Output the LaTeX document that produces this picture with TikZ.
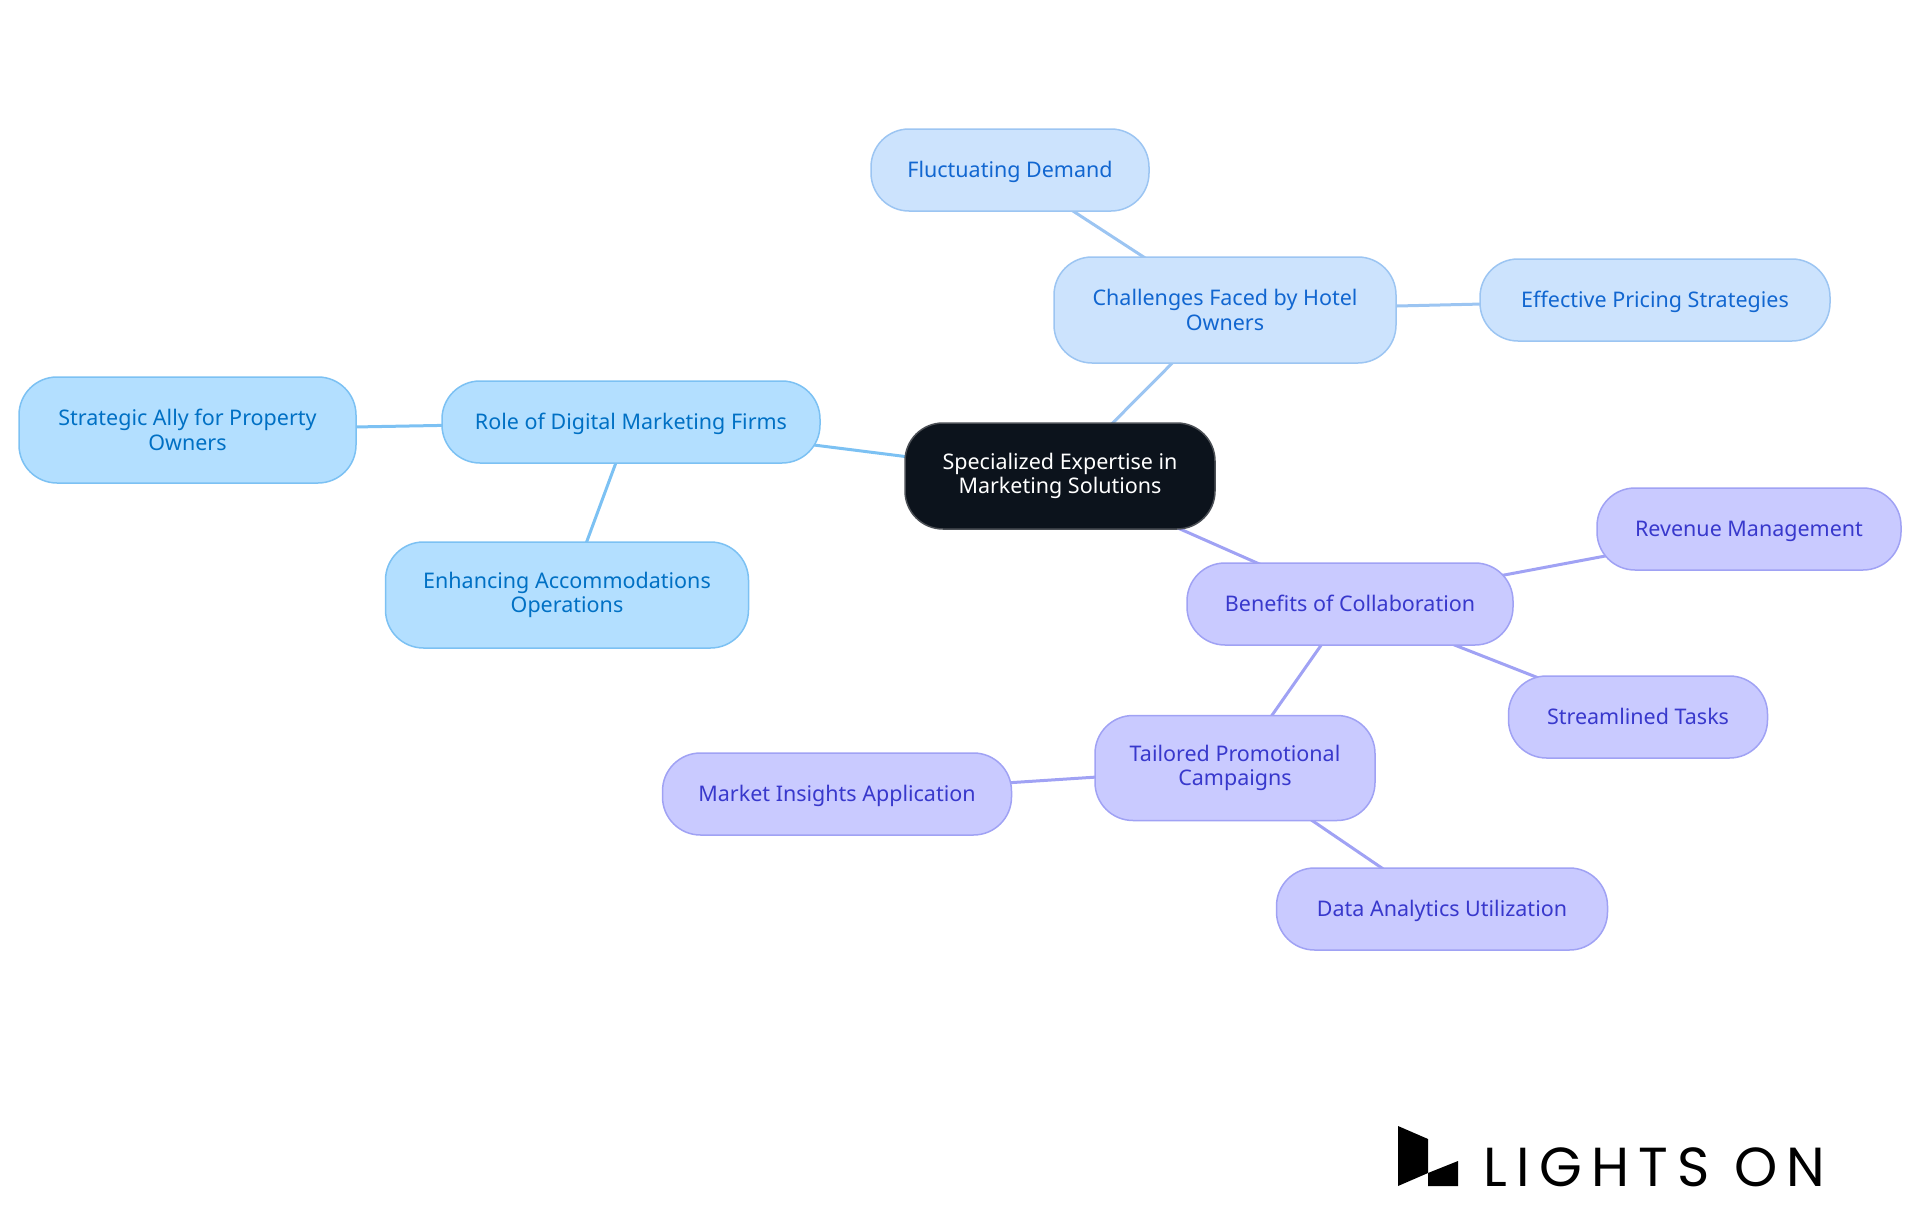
\documentclass[tikz,border=0pt]{standalone}
\usepackage{fontspec}
\setmainfont{Noto Sans}
\newfontfamily\logofont{Poppins}
\usetikzlibrary{backgrounds}
\definecolor{skyfill}{HTML}{B3DFFF}
\definecolor{skyline}{HTML}{7CC1F3}
\definecolor{skytext}{HTML}{0070C4}
\definecolor{bluefill}{HTML}{CCE3FD}
\definecolor{blueline}{HTML}{9CC5F2}
\definecolor{bluetext}{HTML}{1166D0}
\definecolor{violetfill}{HTML}{C9CAFF}
\definecolor{violetline}{HTML}{A0A2F4}
\definecolor{violettext}{HTML}{3838CC}
\definecolor{rootfill}{HTML}{0C131C}
\definecolor{rootline}{HTML}{4B4F55}
\begin{document}
\begin{tikzpicture}[x=1pt,y=-1pt,
  topic/.style={draw,line width=1.5pt,rounded corners=38pt,inner sep=0pt,align=center,
    font=\fontsize{21.5}{24.5}\selectfont},
  oneline/.style={text height=19pt,text depth=5pt},
  sky/.style={topic,fill=skyfill,draw=skyline,text=skytext},
  bluish/.style={topic,fill=bluefill,draw=blueline,text=bluetext},
  violet/.style={topic,fill=violetfill,draw=violetline,text=violettext},
  link/.style={line width=3pt}]
\useasboundingbox (0,0) rectangle (1920,1215);

\node[topic,fill=rootfill,draw=rootline,text=white,minimum width=310pt,minimum height=106pt] (root) at (1060,476) {Specialized Expertise in\\Marketing Solutions};

% left branch
\node[sky,oneline,minimum width=378pt,minimum height=82pt] (role) at (631,422) {Role of Digital Marketing Firms};
\node[sky,minimum width=337pt,minimum height=106pt] (ally) at (187.5,430) {Strategic Ally for Property\\Owners};
\node[sky,minimum width=363pt,minimum height=106pt] (enhancing) at (567,595) {Enhancing Accommodations\\Operations};

% top branch
\node[bluish,minimum width=342pt,minimum height=106pt] (challenges) at (1225,310) {Challenges Faced by Hotel\\Owners};
\node[bluish,oneline,minimum width=278pt,minimum height=82pt] (demand) at (1010,170) {Fluctuating Demand};
\node[bluish,oneline,minimum width=350pt,minimum height=82pt] (pricing) at (1655,300) {Effective Pricing Strategies};

% lower branch
\node[violet,oneline,minimum width=326pt,minimum height=82pt] (benefits) at (1350,604) {Benefits of Collaboration};
\node[violet,oneline,minimum width=304pt,minimum height=82pt] (revenue) at (1749,529) {Revenue Management};
\node[violet,oneline,minimum width=259pt,minimum height=82pt] (tasks) at (1638,717) {Streamlined Tasks};
\node[violet,minimum width=280pt,minimum height=105pt] (campaigns) at (1235,768) {Tailored Promotional\\Campaigns};
\node[violet,oneline,minimum width=349pt,minimum height=82pt] (insights) at (837,794) {Market Insights Application};
\node[violet,oneline,minimum width=331pt,minimum height=82pt] (analytics) at (1442,909) {Data Analytics Utilization};

\scope[on background layer]
\draw[link,skyline] (root.center) -- (role.center) (role.center) -- (ally.center)
      (role.center) -- (enhancing.center);
\draw[link,blueline] (root.center) -- (challenges.center) (challenges.center) -- (demand.center)
      (challenges.center) -- (pricing.center);
\draw[link,violetline] (root.center) -- (benefits.center) (benefits.center) -- (revenue.center)
      (benefits.center) -- (tasks.center) (benefits.center) -- (campaigns.center)
      (campaigns.center) -- (insights.center) (campaigns.center) -- (analytics.center);
\endscope

% logo
\fill[black] (1398,1126) -- (1428,1139) -- (1428,1173) -- (1398,1186) -- cycle;
\fill[black] (1428,1173) -- (1458,1161) -- (1458,1186) -- (1428,1186) -- cycle;
\node[inner sep=0pt,anchor=base west,font=\logofont\fontsize{55}{55}\selectfont\addfontfeature{LetterSpace=17}] (logotext) at (1483,1186) {LIGHTS ON};
\end{tikzpicture}
\end{document}
